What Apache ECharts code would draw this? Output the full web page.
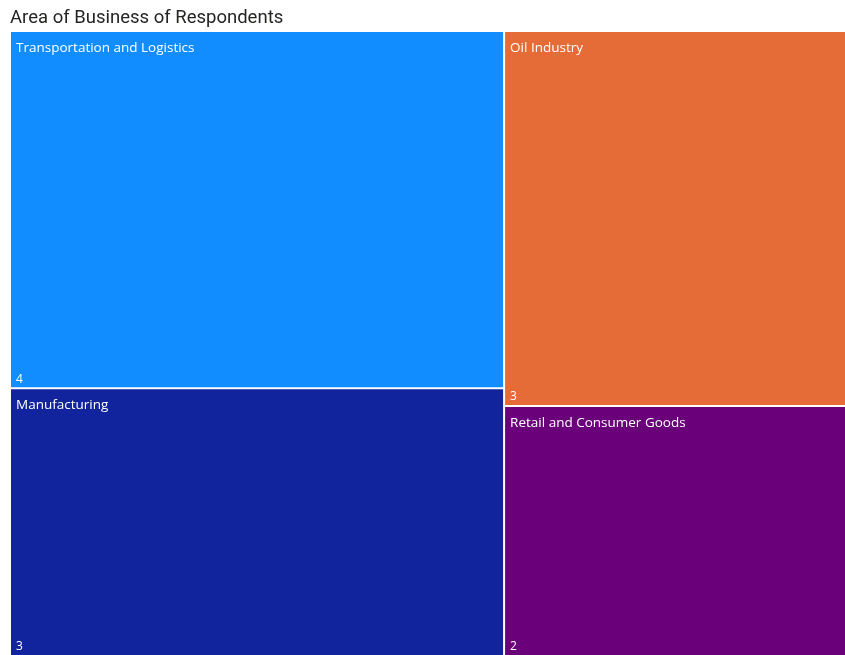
<!DOCTYPE html>
<html>
<head>
<meta charset="utf-8">
<script src="https://cdn.jsdelivr.net/npm/echarts@6/dist/echarts.min.js"></script>
<style>
  html, body { margin: 0; padding: 0; background: #fff; }
  #chart { width: 845px; height: 655px; }
</style>
</head>
<body>
<div id="chart"></div>
<script>
// 行业分布 (treemap)
const categories = ['Transportation and Logistics', 'Oil Industry', 'Manufacturing', 'Retail and Consumer Goods']
const counts = [4, 3, 3, 2]
const colors = ['#118DFF', '#E66C37', '#12239E', '#6B007B']

const nodes = categories.map((name, i) => ({
  name,
  value: counts[i],
  itemStyle: { color: colors[i] },
}))

// 第二层 treemap 只负责左下角的数值 label (同样布局, 透明底)
const valueNodes = categories.map((name, i) => ({
  name,
  value: counts[i],
  itemStyle: { color: 'rgba(0,0,0,0)' },
}))

// right 略负: 原图左列比 7/12 稍宽, 右列被画布裁掉一点
const box = { left: 11, top: 32, right: -11, bottom: 0 }
const fontFamily = "'Open Sans', 'Noto Sans', sans-serif"

const chart = echarts.init(document.getElementById('chart'))
chart.setOption({
  animation: false,
  title: {
    text: 'Area of Business of Respondents',
    left: 5,
    top: 4,
    textStyle: { fontFamily: 'Roboto, sans-serif', fontSize: 18.5, fontWeight: 'normal', color: '#252423' },
  },
  series: [
    {
      type: 'treemap',
      ...box,
      roam: false,
      nodeClick: false,
      breadcrumb: { show: false },
      data: nodes,
      levels: [{ itemStyle: { gapWidth: 2, borderWidth: 0, borderColor: '#fff' } }],
      label: {
        show: true,
        position: 'insideTopLeft',
        formatter: '{b}',
        color: '#fff',
        fontSize: 13.5,
        fontFamily,
        distance: 0,
        padding: [9, 0, 0, 5],
      },
    },
    {
      type: 'treemap',
      ...box,
      roam: false,
      nodeClick: false,
      silent: true,
      breadcrumb: { show: false },
      data: valueNodes,
      levels: [{ itemStyle: { gapWidth: 2, borderWidth: 0, borderColor: 'rgba(0,0,0,0)' } }],
      label: {
        show: true,
        position: 'insideBottomLeft',
        formatter: '{c}',
        color: '#fff',
        fontSize: 12,
        fontFamily,
        distance: 0,
        padding: [0, 0, 2, 5],
      },
    },
  ],
})
</script>
</body>
</html>
